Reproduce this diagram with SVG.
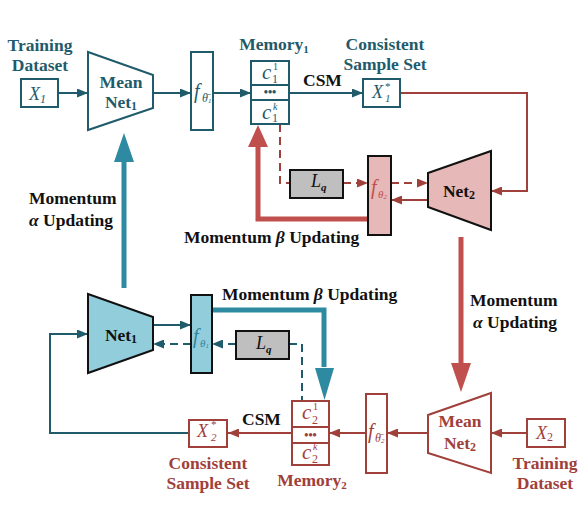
<svg xmlns="http://www.w3.org/2000/svg" width="580" height="526" viewBox="0 0 580 526" font-family="'Liberation Serif','Times New Roman',serif">
<style>
text{font-family:"Liberation Serif","Times New Roman",serif}
.b{font-weight:bold;font-size:17.5px}
.tl{fill:#1f5b6b}
.rd{fill:#a0403a}
.blk{fill:#111}
.it{font-style:italic}
.bt{fill:#fff;stroke:#1f5b6b;stroke-width:2}
.br{fill:#fff;stroke:#a0403a;stroke-width:2}
.lt{fill:none;stroke:#1f5b6b;stroke-width:2}
.lr{fill:none;stroke:#a0403a;stroke-width:2}
.dash{stroke-dasharray:8 5}
.gray{fill:#bfbfbf;stroke:#111;stroke-width:2}
.cc{font-style:italic;font-size:21px}
.sp{font-size:10px}
.sb{font-size:12px}
</style>
<defs>
<marker id="aT" markerUnits="userSpaceOnUse" markerWidth="11" markerHeight="9" refX="11" refY="4.5" orient="auto"><path d="M0,0 L11,4.5 L0,9 z" fill="#1f5b6b"/></marker>
<marker id="aR" markerUnits="userSpaceOnUse" markerWidth="11" markerHeight="9" refX="11" refY="4.5" orient="auto"><path d="M0,0 L11,4.5 L0,9 z" fill="#a0403a"/></marker>
</defs>
<rect width="580" height="526" fill="#fff"/>

<g id="connectors">
<line class="lt" x1="58" y1="93" x2="88" y2="93" marker-end="url(#aT)"/>
<line class="lt" x1="153" y1="93" x2="191" y2="93" marker-end="url(#aT)"/>
<line class="lt" x1="213" y1="93" x2="251" y2="93" marker-end="url(#aT)"/>
<line class="lt" x1="289" y1="93" x2="363" y2="93" marker-end="url(#aT)"/>
<polyline class="lr" points="400,93 527,93 527,191 491,191" marker-end="url(#aR)"/>
<line class="lr" x1="428" y1="200" x2="391" y2="200" marker-end="url(#aR)"/>
<line class="lr dash" x1="391" y1="183" x2="428" y2="183" marker-end="url(#aR)"/>
<line class="lr dash" x1="343" y1="183" x2="368" y2="183" marker-end="url(#aR)"/>
<polyline class="lr dash" points="280,124 280,183 290,183"/>
<polyline points="368,219 258,219 258,146" fill="none" stroke="#c0504d" stroke-width="5"/>
<polygon points="248,147 268,147 258,125" fill="#c0504d"/>
<line x1="124" y1="288" x2="124" y2="161" stroke="#2e8aa0" stroke-width="5"/>
<polygon points="114,162 134,162 124,133" fill="#2e8aa0"/>
<line class="lt" x1="153" y1="325" x2="191" y2="325" marker-end="url(#aT)"/>
<line class="lt dash" x1="191" y1="344" x2="153" y2="344" marker-end="url(#aT)"/>
<line class="lt dash" x1="236" y1="344" x2="212" y2="344" marker-end="url(#aT)"/>
<polyline class="lt dash" points="289,344 302,344 302,401"/>
<polyline points="212,310 324,310 324,367" fill="none" stroke="#2e8aa0" stroke-width="5"/>
<polygon points="315,368 334,368 324.5,400" fill="#2e8aa0"/>
<line class="lr" x1="292" y1="433" x2="228" y2="433" marker-end="url(#aR)"/>
<polyline class="lt" points="189,433 50,433 50,334 88,334" marker-end="url(#aT)"/>
<line class="lr" x1="366" y1="433" x2="329" y2="433" marker-end="url(#aR)"/>
<line class="lr" x1="428" y1="433" x2="387" y2="433" marker-end="url(#aR)"/>
<line class="lr" x1="527" y1="433" x2="491" y2="433" marker-end="url(#aR)"/>
<line x1="461" y1="237" x2="461" y2="364" stroke="#c0504d" stroke-width="5"/>
<polygon points="451,363 471,363 461,392" fill="#c0504d"/>
</g>

<g id="labels">
<text class="b tl" x="40" y="51" text-anchor="middle">Training</text>
<text class="b tl" x="40" y="71" text-anchor="middle">Dataset</text>
<text class="b tl" x="274" y="50" text-anchor="middle">Memory<tspan font-size="11" dy="3">1</tspan></text>
<text class="b tl" x="385" y="50" text-anchor="middle">Consistent</text>
<text class="b tl" x="385" y="70" text-anchor="middle">Sample Set</text>
<text class="b blk" x="303" y="86">CSM</text>
<text class="b blk" x="184" y="243">Momentum <tspan class="it">β</tspan> Updating</text>
<text class="b blk" x="29" y="204">Momentum</text>
<text class="b blk" x="29" y="226"><tspan class="it">α</tspan> Updating</text>
<text class="b blk" x="470" y="306">Momentum</text>
<text class="b blk" x="473" y="328"><tspan class="it">α</tspan> Updating</text>
<text class="b blk" x="222" y="300">Momentum <tspan class="it">β</tspan> Updating</text>
<text class="b blk" x="242" y="425">CSM</text>
<text class="b rd" x="208" y="469" text-anchor="middle">Consistent</text>
<text class="b rd" x="208" y="489" text-anchor="middle">Sample Set</text>
<text class="b rd" x="312" y="486" text-anchor="middle">Memory<tspan font-size="11" dy="3">2</tspan></text>
<text class="b rd" x="545" y="469" text-anchor="middle">Training</text>
<text class="b rd" x="545" y="489" text-anchor="middle">Dataset</text>
</g>

<g id="X1">
<rect class="bt" x="21" y="79" width="37" height="28"/>
<text class="tl it" x="29" y="100" font-size="18">X<tspan font-size="12" dy="3">1</tspan></text>
</g>
<g id="MeanNet1">
<polygon class="bt" points="88,52 153,75 153,108 88,130"/>
<text class="b tl" x="121" y="88" text-anchor="middle">Mean</text>
<text class="b tl" x="121" y="108" text-anchor="middle">Net<tspan font-size="12" dy="2">1</tspan></text>
</g>
<g id="fbar1">
<rect class="bt" x="191" y="52" width="22" height="78"/>
<text class="tl it" x="194" y="98" font-size="20">f</text>
<text class="tl it" x="202" y="102" font-size="12">θ̄<tspan font-size="7" dy="1">1</tspan></text>
</g>
<g id="Memory1">
<rect class="bt" x="251" y="61" width="38" height="63"/>
<line class="lt" x1="251" y1="85" x2="289" y2="85"/>
<line class="lt" x1="251" y1="100" x2="289" y2="100"/>
<text class="tl cc" x="262" y="79">c</text>
<text class="tl sp" x="273" y="70">1</text>
<text class="tl sb" x="272" y="83">1</text>
<text class="tl" x="270" y="96" font-size="12" font-weight="bold" text-anchor="middle">•••</text>
<text class="tl cc" x="262" y="119">c</text>
<text class="tl sp it" x="273" y="110">k</text>
<text class="tl sb" x="272" y="122">1</text>
</g>
<g id="X1star">
<rect class="bt" x="363" y="79" width="37" height="28"/>
<text class="tl it" x="372" y="98" font-size="18">X</text>
<text class="tl" x="385" y="90" font-size="11">*</text>
<text class="tl it" x="385" y="102" font-size="11">1</text>
</g>
<g id="Lq1">
<rect class="gray" x="290" y="170" width="53" height="28"/>
<text class="blk it" x="311" y="187" font-size="18">L<tspan font-size="11" font-weight="bold" dy="4">q</tspan></text>
</g>
<g id="ftheta2">
<rect x="368" y="156" width="23" height="79" fill="#e6b8b7" stroke="#111" stroke-width="2"/>
<text class="it" x="371" y="194" font-size="20" fill="#c0504d">f</text>
<text class="it" x="378" y="198" font-size="11" fill="#c0504d">θ<tspan font-size="7" dy="1">2</tspan></text>
</g>
<g id="Net2">
<polygon points="428,173 491,151 491,230 428,207" fill="#e6b8b7" stroke="#111" stroke-width="2"/>
<text class="b blk" x="459" y="197" text-anchor="middle">Net<tspan font-size="12" dy="2">2</tspan></text>
</g>
<g id="Net1">
<polygon points="88,294 153,317 153,350 88,373" fill="#92cddc" stroke="#111" stroke-width="2"/>
<text class="b blk" x="121" y="341" text-anchor="middle">Net<tspan font-size="12" dy="2">1</tspan></text>
</g>
<g id="ftheta1">
<rect x="191" y="295" width="21" height="78" fill="#92cddc" stroke="#111" stroke-width="2"/>
<text class="it" x="193" y="343" font-size="20" fill="#31859c">f</text>
<text class="it" x="200" y="347" font-size="11" fill="#31859c">θ<tspan font-size="7" dy="1">1</tspan></text>
</g>
<g id="Lq2">
<rect class="gray" x="236" y="331" width="53" height="28"/>
<text class="blk it" x="256" y="349" font-size="18">L<tspan font-size="11" font-weight="bold" dy="4">q</tspan></text>
</g>
<g id="X2star">
<rect class="br" x="189" y="420" width="38" height="27"/>
<text class="rd it" x="197" y="437" font-size="18">X</text>
<text class="rd" x="211" y="428" font-size="11">*</text>
<text class="rd it" x="211" y="441" font-size="11">2</text>
</g>
<g id="Memory2">
<rect class="br" x="292" y="401" width="37" height="64"/>
<line class="lr" x1="292" y1="427" x2="329" y2="427"/>
<line class="lr" x1="292" y1="443" x2="329" y2="443"/>
<text class="rd cc" x="302" y="419">c</text>
<text class="rd sp" x="313" y="410">1</text>
<text class="rd sb" x="312" y="424">2</text>
<text class="rd" x="310.5" y="439" font-size="12" font-weight="bold" text-anchor="middle">•••</text>
<text class="rd cc" x="302" y="459">c</text>
<text class="rd sp it" x="313" y="450">k</text>
<text class="rd sb" x="312" y="463">2</text>
</g>
<g id="fbar2">
<rect class="br" x="366" y="394" width="21" height="79"/>
<text class="rd it" x="368" y="438" font-size="20">f</text>
<text class="rd it" x="375" y="442" font-size="12">θ̄<tspan font-size="7" dy="1">2</tspan></text>
</g>
<g id="MeanNet2">
<polygon class="br" points="428,415 491,393 491,473 428,453"/>
<text class="b rd" x="460" y="427" text-anchor="middle">Mean</text>
<text class="b rd" x="460" y="449" text-anchor="middle">Net<tspan font-size="12" dy="2">2</tspan></text>
</g>
<g id="X2">
<rect class="br" x="527" y="419" width="38" height="28"/>
<text class="rd it" x="536" y="439" font-size="18">X<tspan font-size="12" font-style="normal" dy="2">2</tspan></text>
</g>
</svg>
